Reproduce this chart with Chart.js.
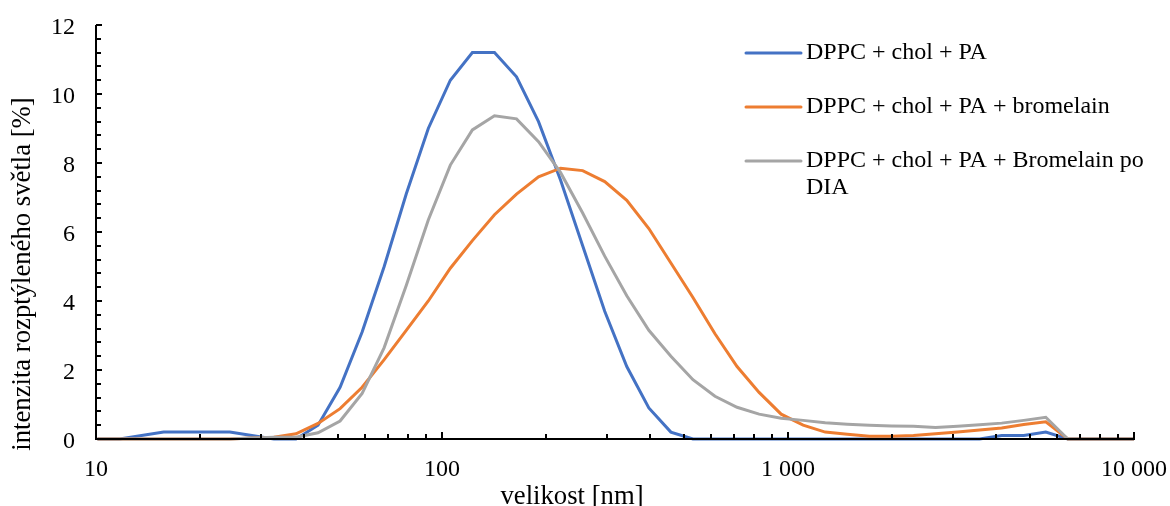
<!DOCTYPE html>
<html lang="cs">
<head>
<meta charset="utf-8">
<title>velikost [nm]</title>
<script src="https://cdn.jsdelivr.net/npm/chart.js@4.4.1/dist/chart.umd.min.js"></script>
<style>
  html, body { margin: 0; padding: 0; background: #fff; }
  #wrap { position: relative; width: 1170px; height: 506px; }
</style>
</head>
<body>
<div id="wrap"><canvas id="dls-chart" width="1170" height="506"></canvas></div>
<script>
/* ── Data ─────────────────────────────────────────────────────────────── */

// size bins [nm]
const SIZES = [10.1, 11.7, 13.54, 15.69, 18.17, 21.04, 24.36, 28.21, 32.67, 37.84,
               43.82, 50.75, 58.77, 68.06, 78.82, 91.28, 105.7, 122.4, 141.8, 164.2,
               190.1, 220.2, 255.0, 295.3, 342.0, 396.1, 458.7, 531.2, 615.1, 712.4,
               825.0, 955.4, 1106, 1281, 1484, 1718, 1990, 2305, 2669, 3091,
               3580, 4145, 4801, 5560, 6439, 7456, 8635, 10000];

const LABELS = [
  'DPPC + chol + PA',
  'DPPC + chol + PA + bromelain',
  'DPPC + chol + PA + Bromelain po DIA',
];

// intensity [%]
const PA = [0, 0, 0.1, 0.2, 0.2, 0.2, 0.2, 0.1, 0, 0,
            0.4, 1.5, 3.1, 5.0, 7.1, 9.0, 10.4, 11.2, 11.2, 10.5,
            9.2, 7.5, 5.6, 3.7, 2.1, 0.9, 0.2, 0, 0, 0,
            0, 0, 0, 0, 0, 0, 0, 0, 0, 0,
            0, 0.1, 0.1, 0.2, 0, 0, 0, 0];

const PA_BROM = [0, 0, 0, 0, 0, 0, 0, 0.03, 0.05, 0.15,
                 0.45, 0.88, 1.5, 2.3, 3.15, 4.0, 4.95, 5.75, 6.5, 7.1,
                 7.6, 7.85, 7.78, 7.46, 6.92, 6.1, 5.1, 4.1, 3.05, 2.1,
                 1.35, 0.72, 0.4, 0.2, 0.14, 0.08, 0.08, 0.1, 0.15, 0.2,
                 0.26, 0.32, 0.42, 0.5, 0, 0, 0, 0];

const PA_BROM_DIA = [0, 0, 0, 0, 0, 0, 0, 0.03, 0.05, 0.05,
                     0.18, 0.52, 1.32, 2.65, 4.45, 6.35, 7.94, 8.96, 9.37, 9.28,
                     8.62, 7.72, 6.55, 5.3, 4.15, 3.15, 2.4, 1.72, 1.24, 0.92,
                     0.72, 0.6, 0.54, 0.47, 0.43, 0.4, 0.38, 0.37, 0.33, 0.37,
                     0.41, 0.46, 0.54, 0.63, 0, 0, 0, 0];

const X_TICKS = [10, 20, 30, 40, 50, 60, 70, 80, 90,
                 100, 200, 300, 400, 500, 600, 700, 800, 900,
                 1000, 2000, 3000, 4000, 5000, 6000, 7000, 8000, 9000, 10000];
const Y_MAJOR = [0, 2, 4, 6, 8, 10, 12];

const COLORS = ['#4472C4', '#ED7D31', '#A5A5A5'];
const FONT   = "'Liberation Serif', 'Times New Roman', serif";

/* ── Helpers ──────────────────────────────────────────────────────────── */

const toPoints = vals => vals.map((v, i) => ({ x: SIZES[i], y: v }));
const spaced   = v => String(Math.round(v)).replace(/\B(?=(\d{3})+(?!\d))/g, ' ');
const isDecade = v => Math.abs(Math.log10(v) - Math.round(Math.log10(v))) < 1e-9;

// y ticks every 0.4, labelled every 2
const yTicks = [];
for (let i = 0; i <= 30; i++) yTicks.push(+(i * 0.4).toFixed(1));

/* ── Plugins: axes with inward ticks, titles, legend ──────────────────── */

const axesPlugin = {
  id: 'axes',
  afterDatasetsDraw(chart) {
    const { ctx, chartArea: a, scales: { x, y } } = chart;
    ctx.save();
    ctx.strokeStyle = '#000';
    ctx.lineWidth = 2;
    ctx.beginPath();
    ctx.moveTo(a.left, a.top);
    ctx.lineTo(a.left, a.bottom);
    ctx.lineTo(a.right + 1, a.bottom);
    ctx.stroke();

    ctx.beginPath();
    X_TICKS.forEach(v => {
      const px = Math.round(x.getPixelForValue(v));
      const len = isDecade(v) ? 7 : 5;
      ctx.moveTo(px, a.bottom);
      ctx.lineTo(px, a.bottom - len);
    });
    yTicks.forEach(v => {
      const py = Math.round(y.getPixelForValue(v));
      const len = Y_MAJOR.includes(v) ? 6 : 5;
      ctx.moveTo(a.left, py);
      ctx.lineTo(a.left + len, py);
    });
    ctx.stroke();
    ctx.restore();
  },
  afterDraw(chart) {
    const ctx = chart.ctx;
    ctx.save();
    ctx.fillStyle = '#000';
    ctx.font = `26.7px ${FONT}`;
    ctx.textAlign = 'center';
    ctx.textBaseline = 'alphabetic';
    ctx.fillText('velikost [nm]', 572, 504);

    ctx.translate(30, 274);
    ctx.rotate(-Math.PI / 2);
    ctx.fillText('intenzita rozptýleného světla [%]', 0, 0);
    ctx.restore();
  }
};

const legendPlugin = {
  id: 'sideLegend',
  afterDraw(chart) {
    const ctx = chart.ctx;
    const lineX0 = 746, lineX1 = 801, textX = 806, maxW = 350;
    let yLine = 53;
    ctx.save();
    ctx.font = `24px ${FONT}`;
    ctx.textAlign = 'left';
    ctx.textBaseline = 'middle';
    chart.data.datasets.forEach(ds => {
      ctx.strokeStyle = ds.borderColor;
      ctx.lineWidth = 3;
      ctx.lineCap = 'round';
      ctx.beginPath();
      ctx.moveTo(lineX0, yLine);
      ctx.lineTo(lineX1, yLine);
      ctx.stroke();

      // wrap long labels word by word
      const lines = [];
      let cur = '';
      ds.label.split(' ').forEach(w => {
        const test = cur ? cur + ' ' + w : w;
        if (ctx.measureText(test).width > maxW && cur) { lines.push(cur); cur = w; }
        else cur = test;
      });
      lines.push(cur);

      ctx.fillStyle = '#000';
      lines.forEach((ln, i) => ctx.fillText(ln, textX, yLine + i * 27));
      yLine += 54;
    });
    ctx.restore();
  }
};

/* ── Chart ────────────────────────────────────────────────────────────── */

const datasets = [PA, PA_BROM, PA_BROM_DIA].map((vals, i) => ({
  label: LABELS[i],
  data: toPoints(vals),
  borderColor: COLORS[i],
  backgroundColor: COLORS[i],
  borderWidth: 3,
  pointRadius: 0,
  tension: 0,
  fill: false,
  clip: false,
  order: 2 - i,
}));

new Chart(document.getElementById('dls-chart'), {
  type: 'line',
  data: { datasets },
  options: {
    responsive: false,
    animation: false,
    events: [],
    layout: { padding: { top: 25, right: 36, bottom: 0, left: 0 } },
    plugins: { legend: { display: false }, tooltip: { enabled: false } },
    scales: {
      x: {
        type: 'logarithmic',
        min: 10, max: 10000,
        grid: { display: false, drawTicks: false },
        border: { display: false },
        afterBuildTicks: s => { s.ticks = X_TICKS.map(v => ({ value: v })); },
        afterFit: s => { s.height = 67; s.paddingLeft = 0; s.paddingRight = 0; },
        ticks: {
          autoSkip: false, maxRotation: 0, minRotation: 0,
          padding: 16, color: '#000',
          font: { family: FONT, size: 24 },
          callback: v => isDecade(v) ? spaced(v) : '',
        },
      },
      y: {
        min: 0, max: 12,
        grid: { display: false, drawTicks: false },
        border: { display: false },
        afterBuildTicks: s => { s.ticks = yTicks.map(v => ({ value: v })); },
        afterFit: s => { s.width = 96; s.paddingTop = 0; s.paddingBottom = 0; },
        ticks: {
          autoSkip: false, padding: 21, labelOffset: 3, color: '#000',
          font: { family: FONT, size: 24 },
          callback: v => Y_MAJOR.includes(v) ? String(v) : '',
        },
      },
    },
  },
  plugins: [axesPlugin, legendPlugin],
});
</script>
</body>
</html>
